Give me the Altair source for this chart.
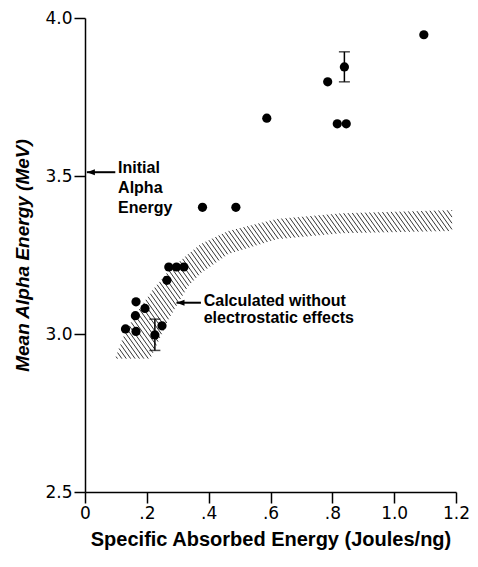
import altair as alt
import numpy as np
import pandas as pd

# ---------------- data ----------------
pt_x = [1.096, 0.839, 0.785, 0.588, 0.816, 0.845, 0.380, 0.488,
        0.271, 0.296, 0.320, 0.265, 0.165, 0.194, 0.163, 0.131, 0.165, 0.249, 0.226]
pt_y = [3.947, 3.845, 3.798, 3.683, 3.665, 3.665, 3.401, 3.401,
        3.212, 3.212, 3.212, 3.170, 3.102, 3.081, 3.058, 3.016, 3.008, 3.026, 2.997]

err_x = [0.839, 0.226]
err_lo = [3.798, 2.948]
err_hi = [3.893, 3.047]

band_x = [0.098, 0.123, 0.164, 0.211, 0.217, 0.271, 0.334, 0.375, 0.463, 0.620, 0.831, 1.187]
band_hi = [2.922, 2.988, 3.064, 3.127, 3.137, 3.200, 3.253, 3.285, 3.326, 3.364, 3.382, 3.392]
band_lo = [2.922, 2.922, 2.922, 2.922, 2.935, 3.048, 3.152, 3.193, 3.253, 3.300, 3.319, 3.326]

x_ticks = [0, 0.2, 0.4, 0.6, 0.8, 1.0, 1.2]
y_ticks = [2.5, 3.0, 3.5, 4.0]

arrow_tip_x = [0.006, 0.296]
arrow_tail_x = [0.098, 0.375]
arrow_y = [3.512, 3.099]

note_text = ["Initial", "Alpha", "Energy", "Calculated without", "electrostatic effects"]
note_x = [0.107, 0.107, 0.107, 0.384, 0.384]
note_y = [3.524, 3.461, 3.398, 3.105, 3.052]

# ---------------- layout ----------------
W, H = 371, 474
X0, X1, Y0, Y1 = 0.0, 1.2, 2.5, 4.0

# ---------------- hatch segments inside the band ----------------
def to_px(x, y):
    return (x - X0) / (X1 - X0) * W, (Y1 - y) / (Y1 - Y0) * H

def to_data(px, py):
    return X0 + px / W * (X1 - X0), Y1 - py / H * (Y1 - Y0)

poly = list(zip(band_x, band_hi)) + list(zip(band_x[::-1], band_lo[::-1]))
P = np.array([to_px(x, y) for x, y in poly])
slope = 1.4
step = 4.4
g = P[:, 0] - P[:, 1] / slope
ks = np.arange(g.min() + step / 2, g.max(), step)
rows = []
n = len(P)
for k in ks:
    f = g - k
    hits = []
    for i in range(n):
        a, b = i, (i + 1) % n
        if (f[a] > 0) != (f[b] > 0):
            t = f[a] / (f[a] - f[b])
            hits.append(P[a] + t * (P[b] - P[a]))
    hits.sort(key=lambda p: p[1])
    for j in range(0, len(hits) - 1, 2):
        xa, ya = to_data(*hits[j])
        xb, yb = to_data(*hits[j + 1])
        rows.append({"x": xa, "y": ya, "x2": xb, "y2": yb})
hatch_df = pd.DataFrame(rows)

pts_df = pd.DataFrame({"x": pt_x, "y": pt_y})
err_df = pd.DataFrame({"x": err_x, "y": err_lo, "y2": err_hi})
cap_df = pd.DataFrame({"x": err_x + err_x, "y": err_lo + err_hi})
arrow_df = pd.DataFrame({"x": arrow_tip_x, "x2": arrow_tail_x, "y": arrow_y})
head_df = pd.DataFrame({"x": arrow_tip_x, "y": arrow_y})
note_df = pd.DataFrame({"x": note_x, "y": note_y, "t": note_text})

xs = alt.Scale(domain=[X0, X1], nice=False, zero=False)
ys = alt.Scale(domain=[Y0, Y1], nice=False, zero=False)

xa = alt.Axis(
    values=x_ticks,
    labelExpr="datum.value == 0 ? '0' : (datum.value < 1 ? substring(format(datum.value, '.1f'), 1) : format(datum.value, '.1f'))",
    title="Specific Absorbed Energy (Joules/ng)",
    grid=False, tickSize=11, labelPadding=2, labelFlush=False, labelOverlap=False,
    labelFont="DejaVu Sans", labelFontSize=17,
    titleFont="Liberation Sans", titleFontWeight="bold", titleFontSize=20, titlePadding=8,
)
ya = alt.Axis(
    values=y_ticks, format=".1f",
    title="Mean Alpha Energy (MeV)",
    grid=False, tickSize=11, labelPadding=2, labelFlush=False, labelOverlap=False,
    labelFont="DejaVu Sans", labelFontSize=17,
    titleFont="Liberation Sans", titleFontWeight="bold", titleFontStyle="italic",
    titleFontSize=19, titlePadding=12,
)

def X(f="x"):
    return alt.X(f, type="quantitative", scale=xs, axis=xa)

def Y(f="y"):
    return alt.Y(f, type="quantitative", scale=ys, axis=ya)

hatch = alt.Chart(hatch_df).mark_rule(color="black", strokeWidth=0.8).encode(
    x=X(), y=Y(), x2="x2", y2="y2")

err = alt.Chart(err_df).mark_rule(color="black", strokeWidth=1.5).encode(
    x=X(), y=Y(), y2="y2")
caps = alt.Chart(cap_df).mark_tick(color="black", orient="horizontal", size=11, thickness=1.5).encode(
    x=X(), y=Y())

pts = alt.Chart(pts_df).mark_point(filled=True, color="black", size=85, opacity=1).encode(
    x=X(), y=Y())

shaft = alt.Chart(arrow_df).mark_rule(color="black", strokeWidth=2).encode(
    x=X(), x2="x2", y=Y())
heads = alt.Chart(head_df).mark_point(
    shape="M0,0L1,-0.38L1,0.38Z", size=256, filled=True, color="black", opacity=1, strokeWidth=0
).encode(x=X(), y=Y())

notes = alt.Chart(note_df).mark_text(
    align="left", baseline="middle", font="Liberation Sans", fontWeight="bold",
    fontSize=16, color="black"
).encode(x=X(), y=Y(), text="t:N")

chart = alt.layer(hatch, err, caps, pts, shaft, heads, notes).properties(
    width=W, height=H,
    autosize=alt.AutoSizeParams(type="none"),
    padding={"left": 77, "top": 10, "right": 14, "bottom": 62},
).configure_view(stroke=None).configure_axis(
    domainColor="black", tickColor="black", labelColor="black", titleColor="black",
    domainWidth=1.5, tickWidth=1.5,
)

chart.save("out.html", embed_options={"renderer": "svg", "actions": False})
